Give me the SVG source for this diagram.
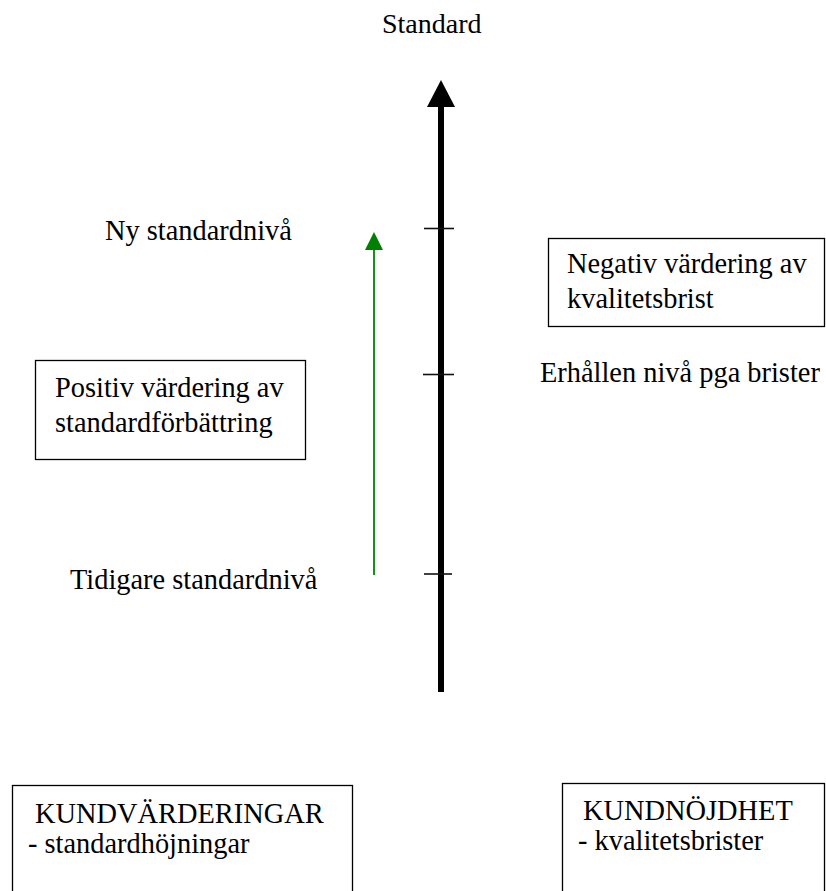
<svg xmlns="http://www.w3.org/2000/svg" width="826" height="891" viewBox="0 0 826 891">
  <style>
    text { font-family: "Liberation Serif", "Times New Roman", serif; font-size: 28.4px; fill: #000; }
    .box { fill: #fff; stroke: #000; stroke-width: 1.3; }
    .tick { stroke: #111; stroke-width: 1.6; }
  </style>
  <rect width="826" height="891" fill="#fff"/>

  <!-- axis title -->
  <g id="axis-title">
    <text x="382" y="33" style="font-size:28px">Standard</text>
  </g>

  <!-- level labels -->
  <g id="label-ny">
    <text x="105" y="240">Ny standardnivå</text>
  </g>
  <g id="label-erhallen">
    <text x="540" y="382">Erhållen nivå pga brister</text>
  </g>
  <g id="label-tidigare">
    <text x="70" y="589">Tidigare standardnivå</text>
  </g>

  <!-- valuation boxes -->
  <g id="box-negativ">
    <rect class="box" x="548.5" y="238.5" width="276" height="88"/>
    <text x="567" y="273">Negativ värdering av</text>
    <text x="567" y="308">kvalitetsbrist</text>
  </g>
  <g id="box-positiv">
    <rect class="box" x="35.5" y="360.5" width="270" height="99"/>
    <text x="55" y="397">Positiv värdering av</text>
    <text x="55" y="432">standardförbättring</text>
  </g>
  <g id="box-kundvarderingar">
    <rect class="box" x="12.5" y="785.5" width="340" height="120"/>
    <text x="35" y="823">KUNDVÄRDERINGAR</text>
    <text x="28" y="853">- standardhöjningar</text>
  </g>
  <g id="box-kundnojdhet">
    <rect class="box" x="562.5" y="783.5" width="262" height="120"/>
    <text x="583" y="820">KUNDNÖJDHET</text>
    <text x="578" y="850">- kvalitetsbrister</text>
  </g>

  <!-- connectors: main standard axis, level ticks and improvement arrow -->
  <g id="connectors">
    <line x1="441" y1="105" x2="441" y2="692" stroke="#000" stroke-width="6"/>
    <polygon points="427,107 455,107 441,80" fill="#000"/>
    <line class="tick" x1="424" y1="228.5" x2="454" y2="228.5"/>
    <line class="tick" x1="423" y1="374.5" x2="454" y2="374.5"/>
    <line class="tick" x1="424" y1="574" x2="452" y2="574"/>
    <line x1="374" y1="248" x2="374" y2="575" stroke="#1a8f1a" stroke-width="2"/>
    <polygon points="365,250 383,250 374,232" fill="#008000"/>
  </g>
</svg>
